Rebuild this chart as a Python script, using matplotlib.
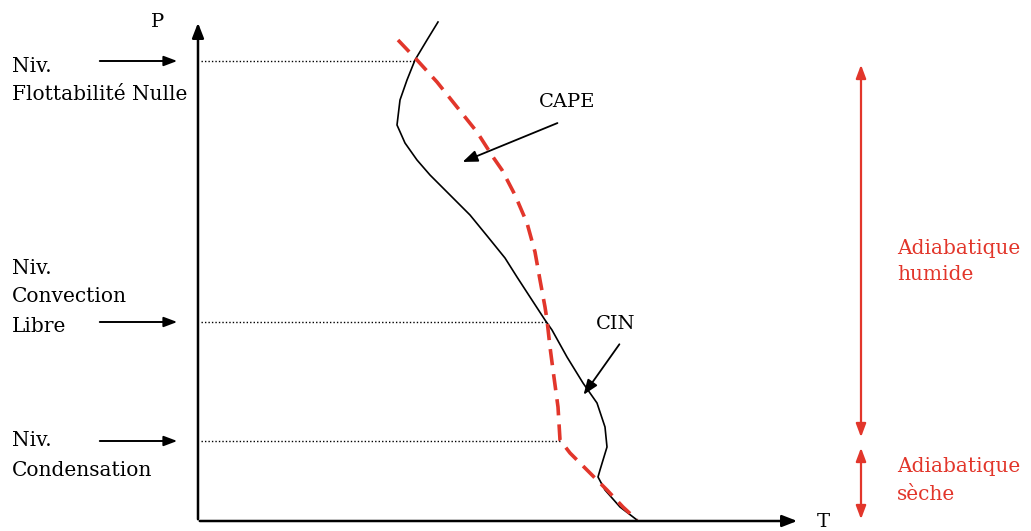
import matplotlib.pyplot as plt

# diagram frame (pixel-like units, y grows downward)
W, H = 1031, 531
origin = (198, 521)
p_top = 20
t_end = 800

# environment sounding (black) : T, height
env_T = [438, 427, 415, 407, 400, 397, 405, 417, 430, 443, 450, 470, 488, 505, 517,
         530, 545, 552, 567, 583, 597, 605, 607, 600, 598, 605, 620, 637]
env_P = [22, 40, 60, 80, 100, 125, 143, 160, 175, 188, 195, 215, 237, 258, 277,
         297, 320, 330, 357, 383, 403, 427, 447, 470, 477, 490, 507, 520]

# parcel path (red dashed)
par_T = [398, 417, 437, 457, 477, 493, 502, 515, 527, 535, 540, 545, 547, 550,
         553, 558, 560, 570, 587, 607, 623, 637]
par_P = [40, 60, 82, 107, 132, 157, 170, 195, 223, 252, 280, 307, 320, 347,
         370, 407, 440, 453, 470, 490, 507, 520]

# levels: label lines, height, T where dotted line stops
levels = [
    (["Niv.", "Flottabilité Nulle"], 61, 416),
    (["Niv.", "Convection", "Libre"], 322, 547),
    (["Niv.", "Condensation"], 441, 560),
]
label_first_y = [66, 268, 441]

red = "#e2362b"
serif = ["DejaVu Serif"]

fig = plt.figure(figsize=(W / 100, H / 100), dpi=100)
ax = fig.add_axes([0, 0, 1, 1])
ax.set_xlim(0, W)
ax.set_ylim(H, 0)
ax.axis("off")

# axes with arrows
ax.annotate("", xy=(origin[0], p_top), xytext=(origin[0], origin[1] + 1),
            arrowprops=dict(arrowstyle="-|>,head_width=0.35,head_length=0.9", color="black", lw=1.8))
ax.annotate("", xy=(t_end, origin[1]), xytext=(origin[0] - 1, origin[1]),
            arrowprops=dict(arrowstyle="-|>,head_width=0.35,head_length=0.9", color="black", lw=1.8))
ax.text(158, 22, "P", fontsize=14, family=serif, ha="center", va="center")
ax.text(823, 522, "T", fontsize=14, family=serif, ha="center", va="center")

# curves
ax.plot(env_T, env_P, color="black", lw=1.2)
ax.plot(par_T, par_P, color=red, lw=2.6, dashes=(4.5, 2.5))

# level markers
for (lines, y, tx), ly in zip(levels, label_first_y):
    ax.plot([origin[0] + 3, tx], [y, y], color="black", lw=1, ls=(0, (1, 1.5)))
    ax.annotate("", xy=(180, y), xytext=(97, y),
                arrowprops=dict(arrowstyle="-|>,head_width=0.3,head_length=0.8", color="black", lw=1.4))
    for i, s in enumerate(lines):
        ax.text(12, ly + i * 29, s, fontsize=14.5, family=serif, ha="left", va="center")

# CAPE / CIN
ax.text(567, 102, "CAPE", fontsize=14, family=serif, ha="center", va="center")
ax.annotate("", xy=(460, 163), xytext=(560, 122),
            arrowprops=dict(arrowstyle="-|>,head_width=0.35,head_length=0.9", color="black", lw=1.3))
ax.text(616, 324, "CIN", fontsize=14, family=serif, ha="center", va="center")
ax.annotate("", xy=(582, 397), xytext=(621, 342),
            arrowprops=dict(arrowstyle="-|>,head_width=0.35,head_length=0.9", color="black", lw=1.3))

# adiabatic ranges
ax.annotate("", xy=(861, 62), xytext=(861, 440),
            arrowprops=dict(arrowstyle="<|-|>,head_width=0.3,head_length=0.8", color=red, lw=1.6))
ax.annotate("", xy=(861, 445), xytext=(861, 522),
            arrowprops=dict(arrowstyle="<|-|>,head_width=0.3,head_length=0.8", color=red, lw=1.6))
ax.text(897, 248, "Adiabatique", fontsize=14.5, family=serif, color=red, ha="left", va="center")
ax.text(897, 275, "humide", fontsize=14.5, family=serif, color=red, ha="left", va="center")
ax.text(897, 467, "Adiabatique", fontsize=14.5, family=serif, color=red, ha="left", va="center")
ax.text(897, 494, "sèche", fontsize=14.5, family=serif, color=red, ha="left", va="center")

fig.savefig("out.png", dpi=100)
